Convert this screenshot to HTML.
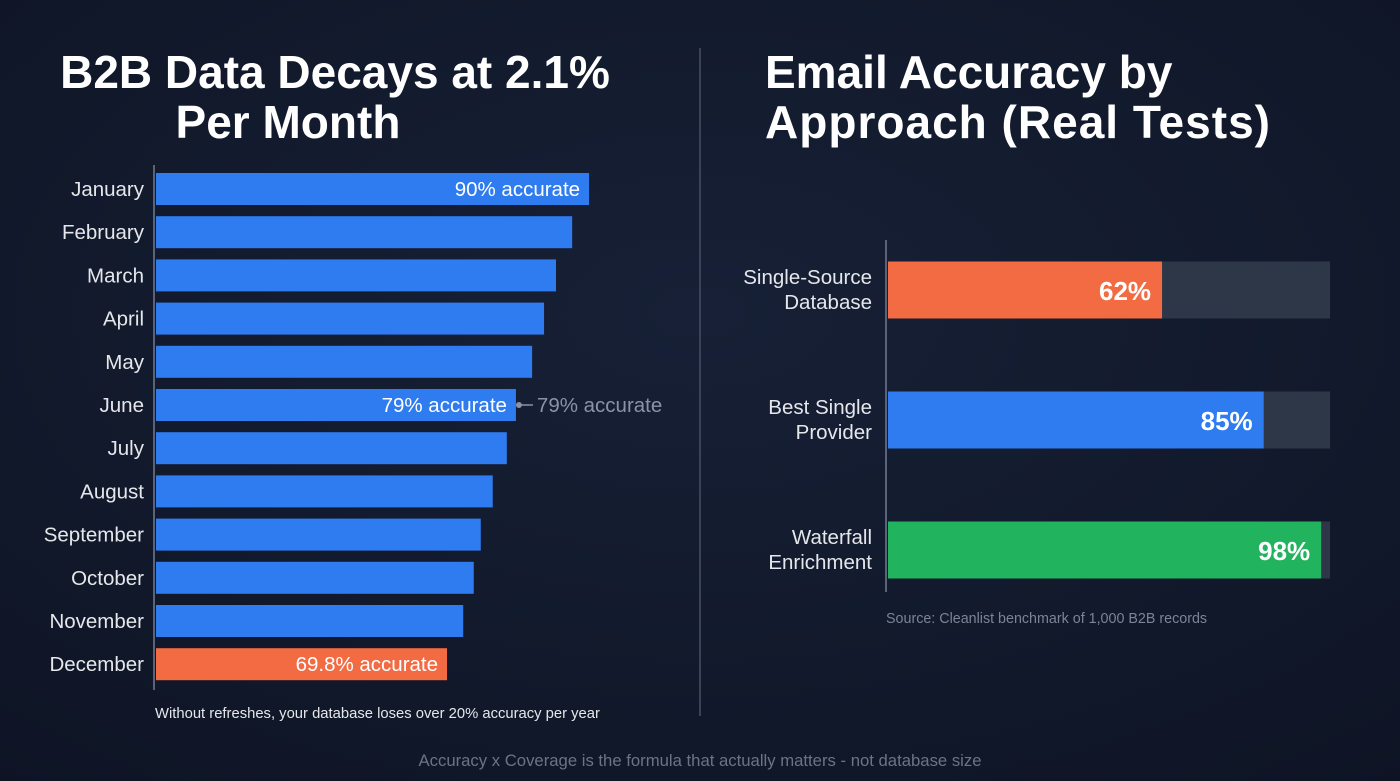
<!DOCTYPE html>
<html><head><meta charset="utf-8"><style>
html,body{margin:0;padding:0;background:#121a2b;}
svg{display:block;font-family:"Liberation Sans",sans-serif;}
</style></head><body>
<svg id="c" width="1400" height="781" viewBox="0 0 1400 781">
<defs><radialGradient id="bg" cx="50%" cy="40%" r="80%"><stop offset="0" stop-color="#172036"/><stop offset="1" stop-color="#0e1424"/></radialGradient></defs>
<rect width="1400" height="781" fill="url(#bg)"/>
<text x="335" y="88" text-anchor="middle" font-size="46" font-weight="bold" fill="#fff">B2B Data Decays at 2.1%</text>
<text x="288" y="138" text-anchor="middle" font-size="46" font-weight="bold" fill="#fff">Per Month</text>
<text x="765" y="88" font-size="46" font-weight="bold" fill="#fff">Email Accuracy by</text>
<text x="765" y="138" font-size="46" font-weight="bold" fill="#fff" textLength="505">Approach (Real Tests)</text>
<line x1="700" y1="48" x2="700" y2="716" stroke="#3a4356" stroke-width="2"/>
<line x1="154" y1="165" x2="154" y2="690" stroke="#5a6478" stroke-width="2"/>
<line x1="886" y1="240" x2="886" y2="592" stroke="#5a6478" stroke-width="2"/>
<g id="left"></g><g id="right"></g>
<text x="155" y="718" font-size="14.8" fill="#e5e7eb">Without refreshes, your database loses over 20% accuracy per year</text>
<text x="886" y="623" font-size="14.3" fill="#7b8496">Source: Cleanlist benchmark of 1,000 B2B records</text>
<text x="700" y="766" text-anchor="middle" font-size="16.7" fill="#6b7385">Accuracy x Coverage is the formula that actually matters - not database size</text>
</svg>
<script>
const months=["January","February","March","April","May","June","July","August","September","October","November","December"];
const accuracy=[90,87.6,85.3,83.6,81.9,79.6,78.3,76.3,74.6,73.6,72.1,69.8];
const barLabels=["90% accurate","","","","","79% accurate","","","","","","69.8% accurate"];
const approaches=[["Single-Source","Database"],["Best Single","Provider"],["Waterfall","Enrichment"]];
const approachValues=[62,85,98];
const approachLabels=["62%","85%","98%"];
const NS="http://www.w3.org/2000/svg";
function mk(t,a,p,txt){const e=document.createElementNS(NS,t);for(const k in a)e.setAttribute(k,a[k]);if(txt!==undefined)e.textContent=txt;p.appendChild(e);return e;}
const xL=v=>156+(v-28.4)*7.03, yL=i=>189+i*43.2;
const L=document.getElementById('left');
months.forEach((m,i)=>{
  const y=yL(i);const end=xL(accuracy[i]);const last=i===months.length-1;
  const r=mk('rect',{x:156,y:y-16,width:end-156,height:32,fill:last?'#f26b43':'#2f7bf0'},L);
  
  
  const t=mk('text',{x:144,y:y+7,'text-anchor':'end','font-size':20.5,fill:'#e5e7eb'},L,m);
  
  
  if(barLabels[i]){
    const bl=mk('text',{x:last?end-9:end-9,y:y+7,'text-anchor':'end','font-size':20.5,fill:'#fff'},L,barLabels[i]);
    
    
  }
  if(i===5){
    const c=mk('circle',{cx:end+3,cy:y,r:3,fill:'#8a93a6'},L);
    
    
    const ln=mk('line',{x1:end+3,y1:y,x2:end+17,y2:y,stroke:'#8a93a6','stroke-width':1.5},L);
    
    
    const at=mk('text',{x:end+21,y:y+7,'font-size':20.5,fill:'#8a93a6'},L,barLabels[i]);
    
    
  }
});
const xR=v=>888+v*4.42, yR=i=>290+i*130;
const R=document.getElementById('right');
const cols=['#f26b43','#2f7bf0','#22b35e'];
approaches.forEach((a,i)=>{
  const y=yR(i);
  const tr=mk('rect',{x:888,y:y-28.5,width:xR(100)-888,height:57,fill:'#2e3748'},R);
  
  
  const b=mk('rect',{x:888,y:y-28.5,width:xR(approachValues[i])-888,height:57,fill:cols[i]},R);
  
  
  const v=mk('text',{x:xR(approachValues[i])-11,y:y+10,'text-anchor':'end','font-size':26,'font-weight':'bold',fill:'#fff'},R,approachLabels[i]);
  
  
  a.forEach((ln,j)=>{
    const t=mk('text',{x:872,y:y-6+j*25,'text-anchor':'end','font-size':20.5,fill:'#e5e7eb'},R,ln);
    
    
  });
});
</script>
</body></html>
